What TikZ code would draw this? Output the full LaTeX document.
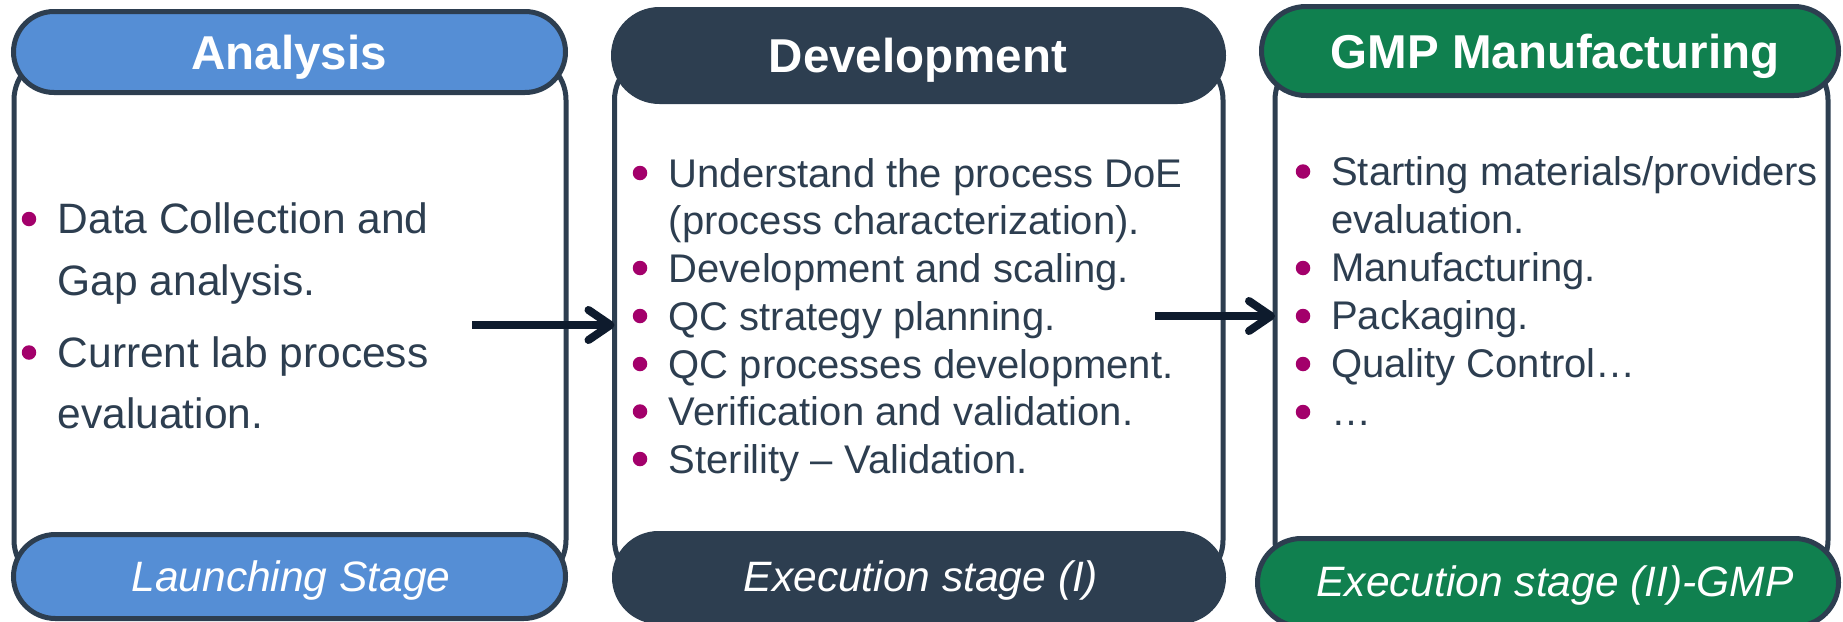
\documentclass[tikz,border=0pt]{standalone}
\usepackage{fontspec}
\setmainfont{Liberation Sans}
\usetikzlibrary{arrows.meta}
\definecolor{navy}{HTML}{2D3E50}
\definecolor{ablue}{HTML}{558ED5}
\definecolor{mgreen}{HTML}{10804F}
\definecolor{bulc}{HTML}{A3006B}
\definecolor{arrc}{HTML}{0E1B2D}
\begin{document}
\begin{tikzpicture}[x=1pt,y=-1pt,
  bodybox/.style={draw=navy, line width=5pt, fill=white, rounded corners=45pt,
    minimum width=#1, minimum height=530pt, inner sep=0pt, outer sep=0pt},
  pill/.style n args={3}{draw=navy, line width=5pt, fill=#1, rounded corners=#3,
    minimum width=#2, minimum height=2*#3, inner sep=0pt, outer sep=0pt},
  headtxt/.style={anchor=base, inner sep=0pt, text=white, font=\fontsize{47.5}{56}\selectfont\bfseries},
  foottxt/.style={anchor=base, inner sep=0pt, text=white, font=\fontsize{42.5}{50}\selectfont\itshape},
  linetxt/.style={anchor=base west, inner sep=0pt, text=navy, font=\fontsize{#1}{#1}\selectfont},
  bul/.style={circle, fill=bulc, minimum size=14.5pt, inner sep=0pt},
  arr/.style={draw=arrc, line width=8pt, -{Straight Barb[length=22pt, width=30pt, round]}}
]
\useasboundingbox (0,0) rectangle (1843,621);
\clip (0,0) rectangle (1843,621);
\fill[white] (0,0) rectangle (1843,621);

% bodies
\node[bodybox=552pt] (abody) at (290,320) {};
\node[bodybox=608.5pt] (dbody) at (918.75,320) {};
\node[bodybox=553pt] (gbody) at (1551.5,320) {};

% headers and footers
\node[pill={ablue}{552pt}{40.5pt}] (ahead) at (289.5,52) {};
\node[pill={ablue}{552pt}{42pt}] (afoot) at (289.5,576.5) {};
\node[pill={navy}{610pt}{46pt}] (dhead) at (918.5,55.5) {};
\node[pill={navy}{609pt}{44pt}] (dfoot) at (919,577.5) {};
\node[pill={mgreen}{577pt}{44.5pt}] (ghead) at (1550,51) {};
\node[pill={mgreen}{581pt}{44pt}] (gfoot) at (1548,582.5) {};

\node[headtxt] (aht) at (289,69) {Analysis};
\node[headtxt] (dht) at (918,72.5) {Development};
\node[headtxt] (ght) at (1555,68) {GMP Manufacturing};
\node[foottxt] (aft) at (291,591) {Launching Stage};
\node[foottxt] (dft) at (921,591) {Execution stage (I)};
\node[foottxt] (gft) at (1555,596) {Execution stage (II)-GMP};

% Analysis text
\node[bul] (ab1) at (29,219) {};
\node[bul] (ab2) at (29,352.5) {};
\node[linetxt=42.5] (al1) at (57.5,233) {Data Collection and};
\node[linetxt=42.5] (al2) at (57.5,295) {Gap analysis.};
\node[linetxt=42.5] (al3) at (57.5,367) {Current lab process};
\node[linetxt=42.5] (al4) at (57.5,428) {evaluation.};

% Development text
\node[bul] (db1) at (640,173) {};
\node[bul] (db2) at (640,268) {};
\node[bul] (db3) at (640,316) {};
\node[bul] (db4) at (640,364) {};
\node[bul] (db5) at (640,411.5) {};
\node[bul] (db6) at (640,459) {};
\node[linetxt=40] (dl1) at (668.5,187) {Understand the process DoE};
\node[linetxt=40] (dl2) at (668.5,234.5) {(process characterization).};
\node[linetxt=40] (dl3) at (668.5,282) {Development and scaling.};
\node[linetxt=40] (dl4) at (668.5,330) {QC strategy planning.};
\node[linetxt=40] (dl5) at (668.5,378) {QC processes development.};
\node[linetxt=40] (dl6) at (668.5,425.5) {Verification and validation.};
\node[linetxt=40] (dl7) at (668.5,473) {Sterility – Validation.};

% GMP text
\node[bul] (gb1) at (1303,171.5) {};
\node[bul] (gb2) at (1303,268) {};
\node[bul] (gb3) at (1303,316) {};
\node[bul] (gb4) at (1303,364) {};
\node[bul] (gb5) at (1303,412) {};
\node[linetxt=40] (gl1) at (1331,185) {Starting materials/providers};
\node[linetxt=40] (gl2) at (1331,233.5) {evaluation.};
\node[linetxt=40] (gl3) at (1331,281.5) {Manufacturing.};
\node[linetxt=40] (gl4) at (1331,329.5) {Packaging.};
\node[linetxt=40] (gl5) at (1331,377.5) {Quality Control…};
\node[linetxt=40] (gl6) at (1331,425.5) {…};

% arrows
\coordinate (a1s) at (472,325);
\coordinate (a2s) at (1155,316);
\draw[arr] (a1s) -- (dbody.west |- a1s);
\draw[arr] (a2s) -- (gbody.west |- a2s);
\end{tikzpicture}
\end{document}
